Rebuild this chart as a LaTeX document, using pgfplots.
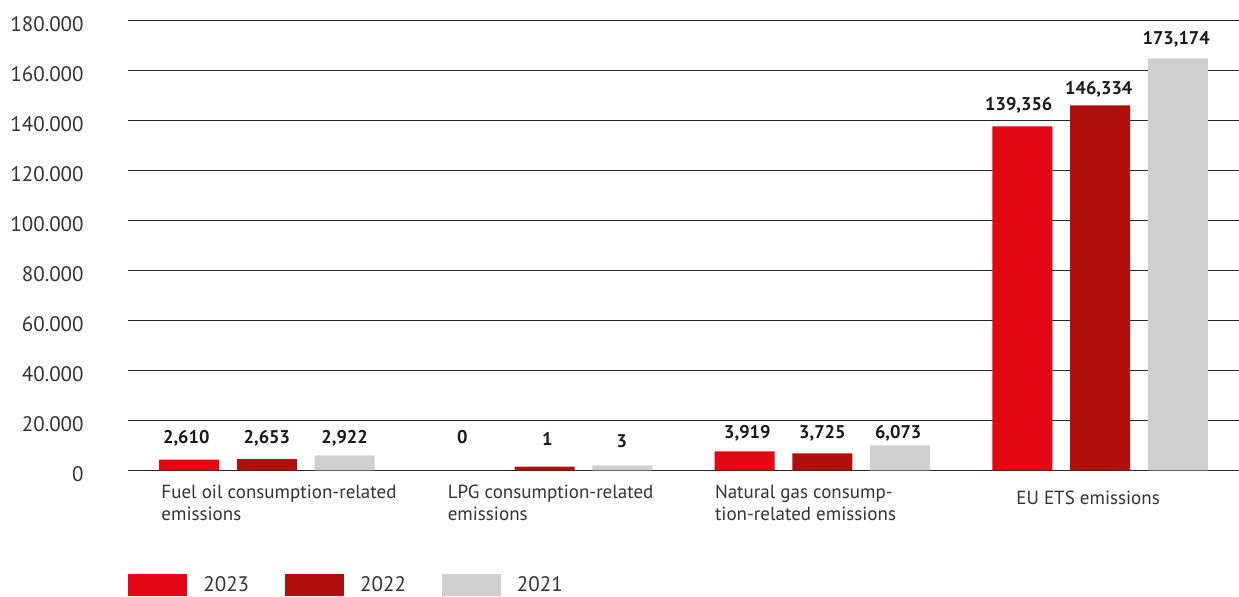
\documentclass[border=0pt]{standalone}
\usepackage{fontspec}
\setmainfont{PT Sans}
\usepackage{pgfplots}
\pgfplotsset{compat=1.18}
\definecolor{c2023}{HTML}{E30613}
\definecolor{c2022}{HTML}{B0100D}
\definecolor{c2021}{HTML}{CFCFCF}
\definecolor{txt}{HTML}{333333}
\begin{document}
\begin{tikzpicture}
\begin{axis}[
    scale only axis,
    width=555.5pt, height=225pt,
    xmin=-0.5, xmax=3.5,
    ymin=0, ymax=180000,
    axis line style={draw=none},
    major tick length=0pt,
    ytick={0,20000,...,180000},
    ymajorgrids,
    major grid style={black!85, line width=0.55pt},
    extra y ticks={0},
    extra y tick labels={},
    extra y tick style={grid style={black, line width=2pt}},
    scaled y ticks=false,
    yticklabel style={/pgf/number format/.cd, fixed, 1000 sep={.}, assume math mode=true,
        /tikz/.cd, font=\fontsize{10.5}{12}\selectfont, text=txt, inner sep=0pt, xshift=-22pt, yshift=-1.8pt},
    xtick={-0.381,0.650,1.612,2.697},
    xticklabels={Fuel oil consumption-related\\emissions,
                 LPG consumption-related\\emissions,
                 Natural gas consump-\\tion-related emissions,
                 \rule{0pt}{10pt}EU ETS emissions},
    xticklabel style={anchor=north west, align=left, inner sep=0pt, yshift=-7pt,
        font=\fontsize{9.5}{11}\selectfont, text=txt},
    legend columns=3,
    legend image code/.code={\fill[#1] (0pt,-5.5pt) rectangle (29.5pt,5.5pt);},
    legend style={at={(rel axis cs:0,0)}, anchor=north west, yshift=-51.8pt,
        draw=none, fill=none, inner sep=0pt, nodes={inner sep=0pt},
        font=\fontsize{10.5}{12}\selectfont, text=txt,
        /tikz/every odd column/.append style={column sep=8pt},
        /tikz/every even column/.append style={column sep=18pt}},
]
%% 2023
\addplot[ybar, bar width=0.216, bar shift=-0.28, fill=c2023, draw=none]
    coordinates {(0,4300) (2,7600) (3,137600)};
%% 2022
\addplot[ybar, bar width=0.216, bar shift=0, fill=c2022, draw=none]
    coordinates {(0,4500) (1,1500) (2,6800) (3,146000)};
%% 2021
\addplot[ybar, bar width=0.216, bar shift=0.28, fill=c2021, draw=none]
    coordinates {(0,6000) (1,2000) (2,10000) (3,164800)};
\legend{2023, 2022, 2021}

%% value labels
\addplot[forget plot, draw=none, mark=none, nodes near coords, point meta=explicit symbolic,
    every node near coord/.append style={inner sep=0pt, text depth=0pt,
        font=\fontsize{9.2}{11}\selectfont\bfseries, text=black!90}]
    coordinates {
    (-0.29,10500) [2,610] (0,10500) [2,653] (0.28,10500) [2,922]
    (0.704,10400) [0] (1.01,9900) [1] (1.278,8900) [3]
    (1.73,12600) [3,919] (2.0,12600) [3,725] (2.273,12600) [6,073]
    (2.707,143700) [139,356] (2.995,150100) [146,334] (3.274,170100) [173,174]
    };
\end{axis}
\pgfresetboundingbox
\useasboundingbox ([xshift=-64pt,yshift=-62.85pt]current axis.south west)
    rectangle ([yshift=10.15pt]current axis.north east);
\end{tikzpicture}
\end{document}
